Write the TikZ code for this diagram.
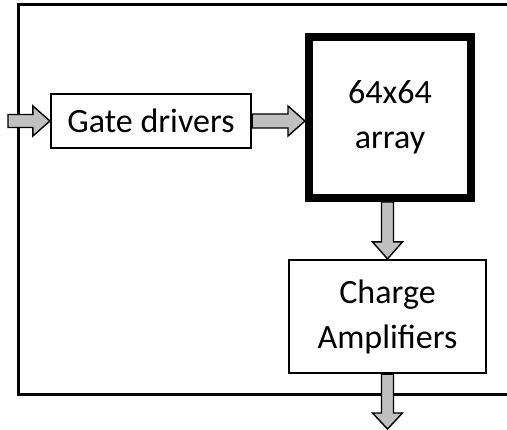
\documentclass[tikz,border=0pt]{standalone}
\usepackage{fontspec}
\setmainfont{Carlito}
\usetikzlibrary{calc}
\definecolor{arrgray}{HTML}{C0C0C0}
\tikzset{
  box/.style={draw=black, line width=2.2pt, fill=white, inner sep=0pt, align=center,
    font=\fontsize{34}{45}\selectfont},
  bigbox/.style={box, line width=8pt},
  blk/.style={draw=black, fill=arrgray, line width=1.4pt, line join=miter},
  frame/.style={draw=black, line width=3pt}
}
\begin{document}
\begin{tikzpicture}[x=1pt,y=-1pt]
\useasboundingbox (0,0) rectangle (507,430);
% outer frame (right side beyond the picture)
\draw[frame] (507,5) -- (18.5,5) -- (18.5,395) -- (507,395);
% nodes
\node[box, minimum width=200pt, minimum height=54pt] (gd) at (151,121) {Gate drivers};
\node[bigbox, minimum width=162pt, minimum height=161pt] (arr) at (390,117.5) {64x64\\array};
\node[box, minimum width=197pt, minimum height=113pt] (ca) at (387.5,316.5) {Charge\\Amplifiers};
\coordinate (in) at (8,121);
\coordinate (out) at (388,429);
% horizontal block arrows
\draw[blk] let \p1=(in), \p2=(gd.west) in
  (\x1,\y2+6.5pt) -- (\x2-17pt,\y2+6.5pt) -- (\x2-17pt,\y2+15pt) -- (\x2,\y2)
  -- (\x2-17pt,\y2-15pt) -- (\x2-17pt,\y2-6.5pt) -- (\x1,\y2-6.5pt) -- cycle;
\draw[blk] let \p1=(gd.east), \p2=(arr.west) in
  (\x1,\y1+7pt) -- (\x2-17pt,\y1+7pt) -- (\x2-17pt,\y1+15pt) -- (\x2,\y1)
  -- (\x2-17pt,\y1-15pt) -- (\x2-17pt,\y1-7pt) -- (\x1,\y1-7pt) -- cycle;
% vertical block arrows
\draw[blk] let \p1=(arr.south), \p2=(ca.north) in
  (\x2-6pt,\y1) -- (\x2-6pt,\y2+17pt) -- (\x2-15pt,\y2+17pt) -- (\x2,\y2)
  -- (\x2+15pt,\y2+17pt) -- (\x2+6pt,\y2+17pt) -- (\x2+6pt,\y1) -- cycle;
\draw[blk] let \p1=(ca.south), \p2=(out) in
  (\x1-6pt,\y1) -- (\x1-6pt,\y2+16pt) -- (\x1-15pt,\y2+16pt) -- (\x1,\y2)
  -- (\x1+15pt,\y2+16pt) -- (\x1+6pt,\y2+16pt) -- (\x1+6pt,\y1) -- cycle;
\end{tikzpicture}
\end{document}
